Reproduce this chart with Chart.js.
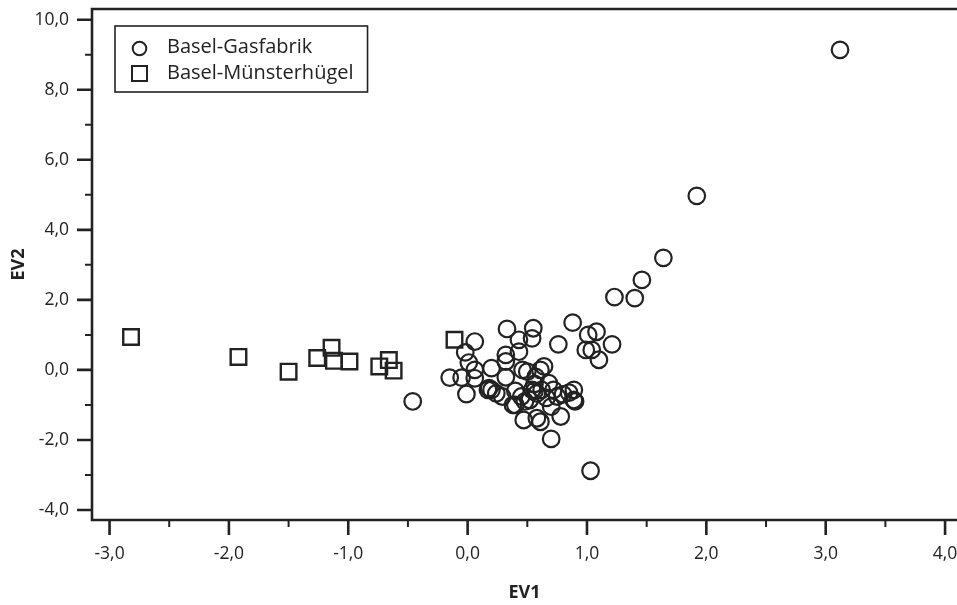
<!DOCTYPE html>
<html>
<head>
<meta charset="utf-8">
<script src="https://cdn.jsdelivr.net/npm/chart.js@4"></script>
<style>
  html, body { margin: 0; padding: 0; background: #fff; }
  #chart { display: block; }
</style>
</head>
<body>
<canvas id="chart" width="957" height="605"></canvas>
<script>
const INK = '#222';
const FONT = "'Open Sans', 'Noto Sans', sans-serif";

// series values [EV1, EV2]
const gasfabrik = [
  [3.12, 9.14], [1.92, 4.97], [1.64, 3.20], [1.46, 2.57], [1.23, 2.08], [1.40, 2.05],
  [0.88, 1.35], [1.21, 0.73], [1.08, 1.09], [1.01, 1.00], [0.99, 0.57], [1.04, 0.57],
  [1.10, 0.29], [0.76, 0.73], [0.55, 1.19], [0.54, 0.90], [0.33, 1.17], [0.43, 0.86],
  [0.43, 0.52], [0.32, 0.43], [0.32, 0.24], [0.06, 0.81], [-0.02, 0.50], [0.01, 0.21],
  [0.06, 0.00], [0.06, -0.24], [-0.15, -0.22], [-0.05, -0.22], [-0.01, -0.69], [0.20, 0.05],
  [0.20, -0.57], [0.17, -0.57], [0.24, -0.67], [0.32, -0.21], [0.29, -0.76], [0.38, -1.00],
  [0.46, 0.00], [0.50, -0.05], [0.61, 0.00], [0.64, 0.10], [0.45, -0.76], [0.54, -0.57],
  [0.58, -0.67], [0.62, -0.57], [0.68, -0.38], [0.72, -0.57], [0.75, -0.76], [0.89, -0.57],
  [0.89, -0.86], [0.90, -0.90], [0.47, -1.43], [0.58, -1.38], [0.61, -1.48], [0.78, -1.33],
  [0.70, -1.97], [1.03, -2.88], [-0.46, -0.90], [0.18, -0.52], [0.40, -1.00], [0.52, -0.86],
  [0.56, -0.40], [0.66, -0.80], [0.80, -0.70], [0.85, -0.65], [0.48, -0.90], [0.70, -1.05],
  [0.57, -0.20], [0.40, -0.60], [0.56, -0.60]
];
const muensterhuegel = [
  [-2.82, 0.94], [-1.92, 0.37], [-1.50, -0.05], [-1.26, 0.34], [-1.14, 0.63], [-1.12, 0.26],
  [-0.99, 0.24], [-0.74, 0.10], [-0.66, 0.28], [-0.62, -0.02], [-0.11, 0.86]
];

const seriesNames = ['Basel-Gasfabrik', 'Basel-Münsterhügel'];

// tick positions; labelled ones are the majors
const xTicks = [-3, -2.5, -2, -1.5, -1, -0.5, 0, 0.5, 1, 1.5, 2, 2.5, 3, 3.5, 4];
const xMajor = [-3, -2, -1, 0, 1, 2, 3, 4];
const yTicks = [-4, -3, -2, -1, 0, 1, 2, 3, 4, 5, 6, 7, 8, 9, 10];
const yMajor = [10, 8, 6, 4, 2, 0, -2, -4];

const fmt = v => v.toFixed(1).replace('.', ',');
const toPts = arr => arr.map(([x, y]) => ({ x, y }));

// axis box, tick marks and legend
const frame = {
  id: 'frame',
  afterDraw(chart) {
    const { ctx, chartArea: a, scales: { x, y } } = chart;
    ctx.save();
    ctx.strokeStyle = INK;
    ctx.lineCap = 'butt';

    ctx.lineWidth = 2.6;
    ctx.beginPath();
    ctx.moveTo(a.left, a.top);
    ctx.lineTo(a.left, a.bottom);
    ctx.lineTo(a.right, a.bottom);
    ctx.moveTo(a.left - 1.3, a.top);
    ctx.lineTo(a.right, a.top);
    xMajor.forEach(v => {
      const px = x.getPixelForValue(v);
      ctx.moveTo(px, a.bottom);
      ctx.lineTo(px, a.bottom + 15);
    });
    yMajor.forEach(v => {
      const py = y.getPixelForValue(v);
      ctx.moveTo(a.left, py);
      ctx.lineTo(a.left - 15, py);
    });
    ctx.stroke();

    ctx.lineWidth = 2;
    ctx.beginPath();
    xTicks.filter(v => !xMajor.includes(v)).forEach(v => {
      const px = x.getPixelForValue(v);
      ctx.moveTo(px, a.bottom);
      ctx.lineTo(px, a.bottom + 7);
    });
    yTicks.filter(v => !yMajor.includes(v)).forEach(v => {
      const py = y.getPixelForValue(v);
      ctx.moveTo(a.left, py);
      ctx.lineTo(a.left - 7, py);
    });
    ctx.stroke();

    // legend
    ctx.font = '20px ' + FONT;
    const textX = 167;
    const w = Math.max(...seriesNames.map(s => ctx.measureText(s).width));
    ctx.lineWidth = 1.6;
    ctx.strokeRect(115, 26, textX + w + 14 - 115, 66);

    ctx.lineWidth = 2;
    ctx.beginPath();
    ctx.arc(139.5, 48.5, 6.8, 0, Math.PI * 2);
    ctx.stroke();
    ctx.strokeRect(132, 66, 15, 15);

    ctx.fillStyle = INK;
    ctx.textBaseline = 'middle';
    ctx.fillText(seriesNames[0], textX, 47.5);
    ctx.fillText(seriesNames[1], textX, 73);
    ctx.restore();
  }
};

const titleFont = { family: FONT, size: 18, weight: 'bold' };
const noTick = 'rgba(0,0,0,0)';

new Chart(document.getElementById('chart'), {
  type: 'scatter',
  data: {
    datasets: [
      {
        label: seriesNames[0],
        data: toPts(gasfabrik),
        pointStyle: 'circle',
        pointRadius: 8.3,
        pointHoverRadius: 8.3,
        borderWidth: 2.2,
        borderColor: INK,
        backgroundColor: 'rgba(0,0,0,0)'
      },
      {
        label: seriesNames[1],
        data: toPts(muensterhuegel),
        pointStyle: 'rect',
        pointRadius: 11,
        pointHoverRadius: 11,
        borderWidth: 2.4,
        borderColor: INK,
        backgroundColor: 'rgba(0,0,0,0)'
      }
    ]
  },
  options: {
    responsive: false,
    animation: false,
    devicePixelRatio: 1,
    layout: { autoPadding: false, padding: { top: 9, right: 0, left: 0, bottom: 0 } },
    plugins: {
      legend: { display: false },
      tooltip: { enabled: false }
    },
    scales: {
      x: {
        type: 'linear',
        min: -3.147,
        max: 4.1,
        // trailing unlabelled tick at max keeps the "4,0" label from adding right padding
        afterBuildTicks: s => { s.ticks = [...xTicks, s.max].map(v => ({ value: v })); },
        afterFit: s => { s.height = 85; },
        border: { display: false },
        grid: { display: true, drawOnChartArea: false, drawTicks: true, tickLength: 24, tickColor: noTick },
        ticks: {
          autoSkip: false,
          maxRotation: 0,
          padding: 0,
          color: INK,
          font: { family: FONT, size: 17.5 },
          callback: v => xMajor.includes(v) ? fmt(v) : ''
        },
        title: { display: true, text: 'EV1', color: INK, font: titleFont, padding: { top: 0, bottom: 1 } }
      },
      y: {
        type: 'linear',
        min: -4.286,
        max: 10.306,
        afterBuildTicks: s => { s.ticks = yTicks.map(v => ({ value: v })); },
        afterFit: s => { s.width = 92; },
        border: { display: false },
        grid: { display: true, drawOnChartArea: false, drawTicks: true, tickLength: 23, tickColor: noTick },
        ticks: {
          autoSkip: false,
          padding: 0,
          color: INK,
          font: { family: FONT, size: 17.5, lineHeight: 1 },
          callback: v => yMajor.includes(v) ? fmt(v) : ''
        },
        title: { display: true, text: 'EV2', color: INK, font: titleFont, padding: { top: 8, bottom: 0 } }
      }
    }
  },
  plugins: [frame]
});
</script>
</body>
</html>
